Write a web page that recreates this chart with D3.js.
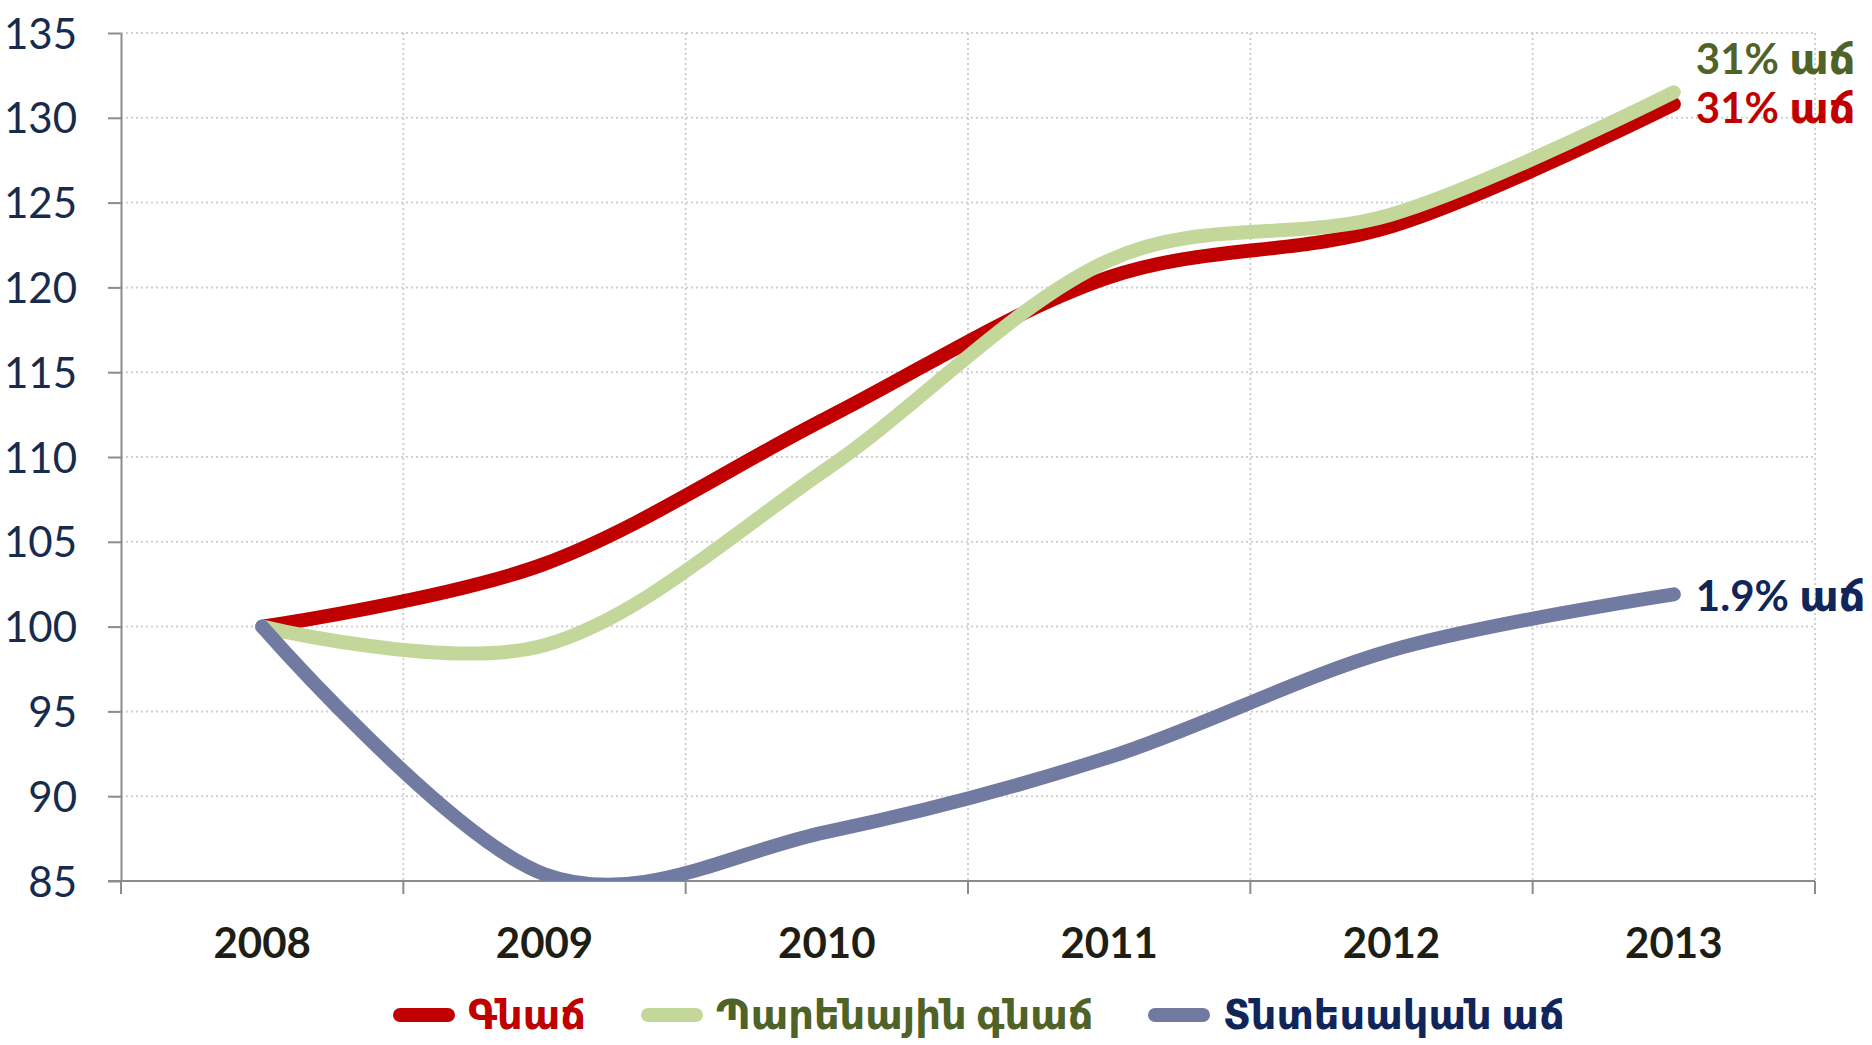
<!DOCTYPE html>
<html>
<head>
<meta charset="utf-8">
<script src="https://cdn.jsdelivr.net/npm/d3@7"></script>
<style>
  html, body { margin: 0; padding: 0; background: #fff; }
  svg text { font-family: Lato, "DejaVu Sans", sans-serif; }
</style>
</head>
<body>
<svg id="chart" width="1872" height="1045"></svg>
<script>

// Years on the x axis.
const years = ['2008', '2009', '2010', '2011', '2012', '2013'];

// Index values, 2008 = 100.
const inflation = [100, 103.7, 112.3, 120.6, 123.6, 130.8];
const foodInflation = [100, 98.9, 109.3, 121.6, 124.3, 131.5];
const growth = [100, 85.4, 87.9, 92.3, 98.6, 101.9];

const yTicks = [85, 90, 95, 100, 105, 110, 115, 120, 125, 130, 135];

const seriesNames = ['Գնաճ', 'Պարենային գնաճ', 'Տնտեսական աճ'];
const endLabels = ['31% աճ', '31% աճ', '1.9% աճ'];

const series = [
  { name: seriesNames[0], values: inflation, line: '#c00000', text: '#c00000', label: endLabels[0], dy: 19 },
  { name: seriesNames[1], values: foodInflation, line: '#c4d79b', text: '#4f6228', label: endLabels[1], dy: -18 },
  { name: seriesNames[2], values: growth, line: '#717ba2', text: '#10255a', label: endLabels[2], dy: 17 }
];

const plot = { left: 121, right: 1815, top: 33, bottom: 881 };

const svg = d3.select('#chart');

const x = d3.scaleBand().domain(years).range([plot.left, plot.right]);
const y = d3.scaleLinear().domain([85, 135]).range([plot.bottom, plot.top]);
const cx = d => x(d) + x.bandwidth() / 2;

// Band edges, used for the vertical grid and the bottom ticks.
const edges = years.map(d => x(d)).concat([plot.right]);

// Grid.
const grid = svg.append('g').attr('stroke', '#cfcfcf').attr('stroke-width', 2)
  .attr('stroke-dasharray', '2,3');

grid.selectAll('line.h').data(yTicks.slice(1)).enter().append('line')
  .attr('x1', plot.left).attr('x2', plot.right)
  .attr('y1', d => y(d)).attr('y2', d => y(d));

grid.selectAll('line.v').data(edges.slice(1)).enter().append('line')
  .attr('x1', d => d).attr('x2', d => d)
  .attr('y1', plot.top).attr('y2', plot.bottom);

// Y axis.
const yAxis = svg.append('g')
  .attr('transform', `translate(${plot.left},0)`)
  .call(d3.axisLeft(y).tickValues(yTicks).tickSize(13).tickPadding(31).tickSizeOuter(0));

yAxis.select('.domain').attr('stroke', '#8c8c8c').attr('stroke-width', 2);
yAxis.selectAll('.tick line').attr('stroke', '#8c8c8c').attr('stroke-width', 2);
yAxis.selectAll('.tick text')
  .attr('fill', '#172b4d')
  .style('font-size', '42px')
  .attr('dy', '0.36em');

// X axis line and ticks at band edges.
const xAxis = svg.append('g');
xAxis.append('line')
  .attr('x1', plot.left - 13).attr('x2', plot.right)
  .attr('y1', plot.bottom).attr('y2', plot.bottom)
  .attr('stroke', '#8c8c8c').attr('stroke-width', 2);
xAxis.selectAll('line.t').data(edges).enter().append('line')
  .attr('x1', d => d).attr('x2', d => d)
  .attr('y1', plot.bottom).attr('y2', plot.bottom + 13)
  .attr('stroke', '#8c8c8c').attr('stroke-width', 2);
xAxis.selectAll('text').data(years).enter().append('text')
  .attr('x', cx)
  .attr('y', 958)
  .attr('text-anchor', 'middle')
  .attr('fill', '#1e1e14')
  .style('font-size', '42px')
  .style('font-weight', 'bold')
  .text(d => d);

// Lines, clipped to the plot area.
svg.append('clipPath').attr('id', 'plot')
  .append('rect').attr('x', 0).attr('y', 0).attr('width', 1872).attr('height', plot.bottom);

const line = d3.line()
  .x((d, i) => cx(years[i]))
  .y(d => y(d))
  .curve(d3.curveCardinal.tension(0));

const lines = svg.append('g').attr('clip-path', 'url(#plot)');

// Series order: red, then green, then blue on top.
series.forEach(s => {
  lines.append('path')
    .attr('d', line(s.values))
    .attr('fill', 'none')
    .attr('stroke', s.line)
    .attr('stroke-width', 14)
    .attr('stroke-linecap', 'round')
    .attr('stroke-linejoin', 'round');
});

// End labels.
const last = years[years.length - 1];
svg.selectAll('text.end').data(series).enter().append('text')
  .attr('class', 'end')
  .attr('x', cx(last) + 22)
  .attr('y', d => y(d.values[d.values.length - 1]) + d.dy)
  .attr('fill', d => d.text)
  .style('font-size', '42px')
  .style('font-weight', 'bold')
  .text(d => d.label);

// Legend.
const legendX = [394, 642, 1149];
const legend = svg.append('g').attr('transform', 'translate(0,1015)');
series.forEach((s, i) => {
  const g = legend.append('g').attr('transform', `translate(${legendX[i]},0)`);
  g.append('line')
    .attr('x1', 6).attr('x2', 54)
    .attr('stroke', s.line)
    .attr('stroke-width', 14)
    .attr('stroke-linecap', 'round');
  g.append('text')
    .attr('x', 74)
    .attr('dy', '0.35em')
    .attr('fill', s.text)
    .style('font-size', '40px')
    .style('font-weight', 'bold')
    .text(s.name);
});

</script>
</body>
</html>
